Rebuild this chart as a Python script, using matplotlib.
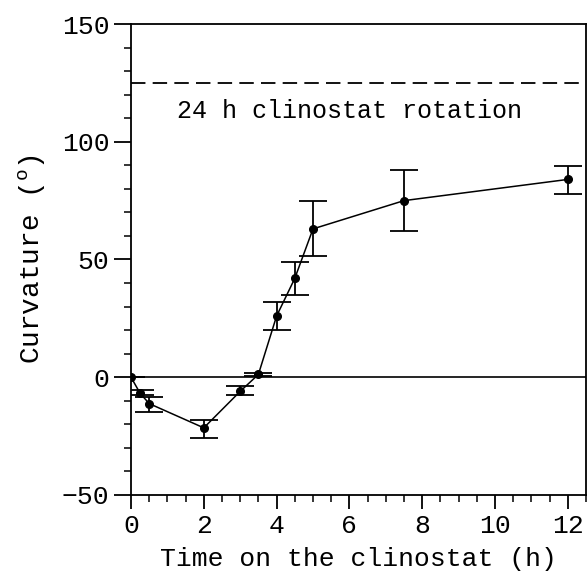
import matplotlib.pyplot as plt
from matplotlib.ticker import MultipleLocator

# time on clinostat (h) and curvature (deg), with error bar ends
time_h = [0, 0.25, 0.5, 2, 3, 3.5, 4, 4.5, 5, 7.5, 12]
curv = [0, -6.8, -11.2, -21.5, -6, 1.2, 26, 42, 63, 75, 84]
err_hi = [0, -5.5, -8.6, -18, -3.7, 1.7, 32, 49, 74.7, 88, 89.8]
err_lo = [0, -7.6, -14.6, -25.8, -7.6, 0.6, 20, 34.8, 51.3, 62, 77.9]
clino_24h = 125

yerr = [[c - lo for c, lo in zip(curv, err_lo)],
        [hi - c for c, hi in zip(curv, err_hi)]]

plt.rcParams['font.family'] = 'Liberation Mono'
plt.rcParams['mathtext.fontset'] = 'custom'
plt.rcParams['mathtext.rm'] = 'Liberation Mono'
fig = plt.figure(figsize=(5.88, 5.80), dpi=100)
ax = fig.add_axes([0.2228, 0.1466, 0.7738, 0.812])

ax.axhline(0, color='black', lw=1.2)
ax.axhline(clino_24h, color='black', lw=1.3, ls=(0, (8, 4)))
ax.text(6.0, 113, '24 h clinostat rotation', ha='center', va='center', fontsize=18)

ax.errorbar(time_h, curv, yerr=yerr, fmt='-o', color='black', ms=5.5, lw=1.1,
            elinewidth=1.3, capsize=10, capthick=1.3)

ax.set_xlim(0, 12.5)
ax.set_ylim(-50, 150)
ax.xaxis.set_major_locator(MultipleLocator(2))
ax.xaxis.set_minor_locator(MultipleLocator(0.5))
ax.yaxis.set_major_locator(MultipleLocator(50))
ax.yaxis.set_minor_locator(MultipleLocator(10))
ax.tick_params(which='major', direction='out', length=10, width=1.3, labelsize=19)
ax.tick_params(which='minor', direction='out', length=5, width=1.1)
ax.tick_params(axis='y', which='major', length=12)
for s in ax.spines.values():
    s.set_linewidth(1.3)

ax.set_xlabel('Time on the clinostat (h)', fontsize=19, labelpad=7)
ax.set_ylabel('Curvature ($\\mathrm{^o}$)', fontsize=20, labelpad=11)

fig.savefig('out.png', dpi=100)
